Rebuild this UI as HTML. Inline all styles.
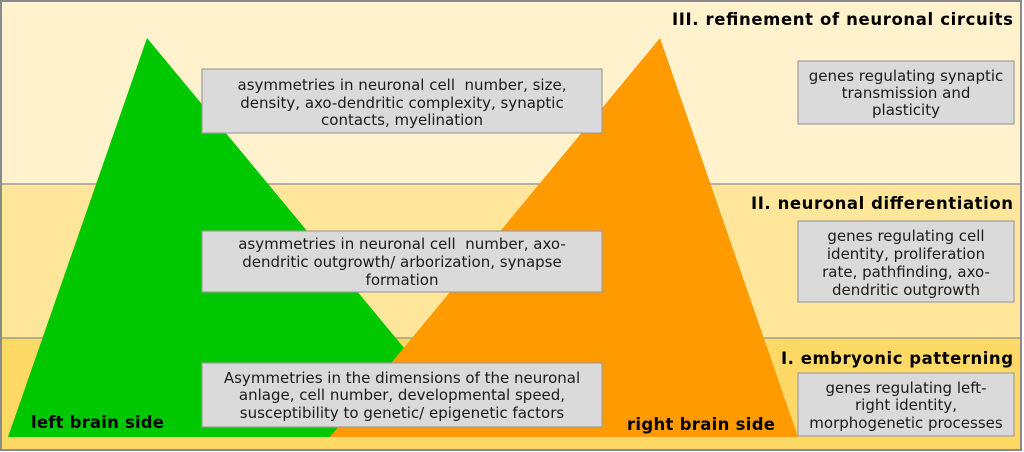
<!DOCTYPE html>
<html><head><meta charset="utf-8"><style>
html,body{margin:0;padding:0;background:#fff;}
svg{display:block;}
.t{font-family:"DejaVu Sans","Liberation Sans",sans-serif;font-size:15px;fill:#1a1a1a;white-space:pre;}
.h{font-family:"DejaVu Sans","Liberation Sans",sans-serif;font-size:16.5px;font-weight:bold;fill:#000;}
</style></head><body>
<svg width="1024" height="452" viewBox="0 0 1024 452" xmlns="http://www.w3.org/2000/svg">
<rect x="0" y="0" width="1024" height="452" fill="#fff"/>
<rect x="1" y="1" width="1020" height="183" fill="#FFF2CC"/>
<rect x="1" y="184" width="1020" height="154" fill="#FFE69B"/>
<rect x="1" y="338" width="1020" height="112" fill="#FFD966"/>
<line x1="1" y1="184" x2="1021" y2="184" stroke="#9c9c9c" stroke-width="1.5"/>
<line x1="1" y1="338" x2="1021" y2="338" stroke="#9c9c9c" stroke-width="1.5"/>
<rect x="1" y="1" width="1020" height="449" fill="none" stroke="#8a8a8a" stroke-width="2"/>
<polygon points="147,38 8,437 478,437" fill="#00C800"/>
<polygon points="660,38 330,437 798,437" fill="#FF9A00"/>

<g fill="#DADADA" stroke="#9e9e9e" stroke-width="1.2">
<rect x="202" y="69" width="400" height="64"/>
<rect x="202" y="231" width="400" height="61"/>
<rect x="202" y="363" width="400" height="64"/>
<rect x="798" y="61" width="216" height="63"/>
<rect x="798" y="221" width="216" height="81"/>
<rect x="798" y="373" width="216" height="63"/>
</g>

<g class="t" text-anchor="middle">
<text x="402" y="90" xml:space="preserve">asymmetries in neuronal cell  number, size,</text>
<text x="402" y="108">density, axo-dendritic complexity, synaptic</text>
<text x="402" y="125">contacts, myelination</text>

<text x="402" y="249" xml:space="preserve">asymmetries in neuronal cell  number, axo-</text>
<text x="402" y="267">dendritic outgrowth/ arborization, synapse</text>
<text x="402" y="285">formation</text>

<text x="402" y="383">Asymmetries in the dimensions of the neuronal</text>
<text x="402" y="400">anlage, cell number, developmental speed,</text>
<text x="402" y="418">susceptibility to genetic/ epigenetic factors</text>

<text x="906" y="81">genes regulating synaptic</text>
<text x="906" y="98">transmission and</text>
<text x="906" y="115">plasticity</text>

<text x="906" y="241">genes regulating cell</text>
<text x="906" y="259">identity, proliferation</text>
<text x="906" y="277">rate, pathfinding, axo-</text>
<text x="906" y="295">dendritic outgrowth</text>

<text x="906" y="393">genes regulating left-</text>
<text x="906" y="410">right identity,</text>
<text x="906" y="428">morphogenetic processes</text>
</g>

<g class="h">
<text x="672" y="25" textLength="341" lengthAdjust="spacing">III. refinement of neuronal circuits</text>
<text x="751" y="209" textLength="262" lengthAdjust="spacing">II. neuronal differentiation</text>
<text x="781" y="364" textLength="232" lengthAdjust="spacing">I. embryonic patterning</text>
<text x="31" y="428" textLength="133" lengthAdjust="spacing">left brain side</text>
<text x="627" y="430" textLength="148" lengthAdjust="spacing">right brain side</text>
</g>
</svg>
</body></html>
